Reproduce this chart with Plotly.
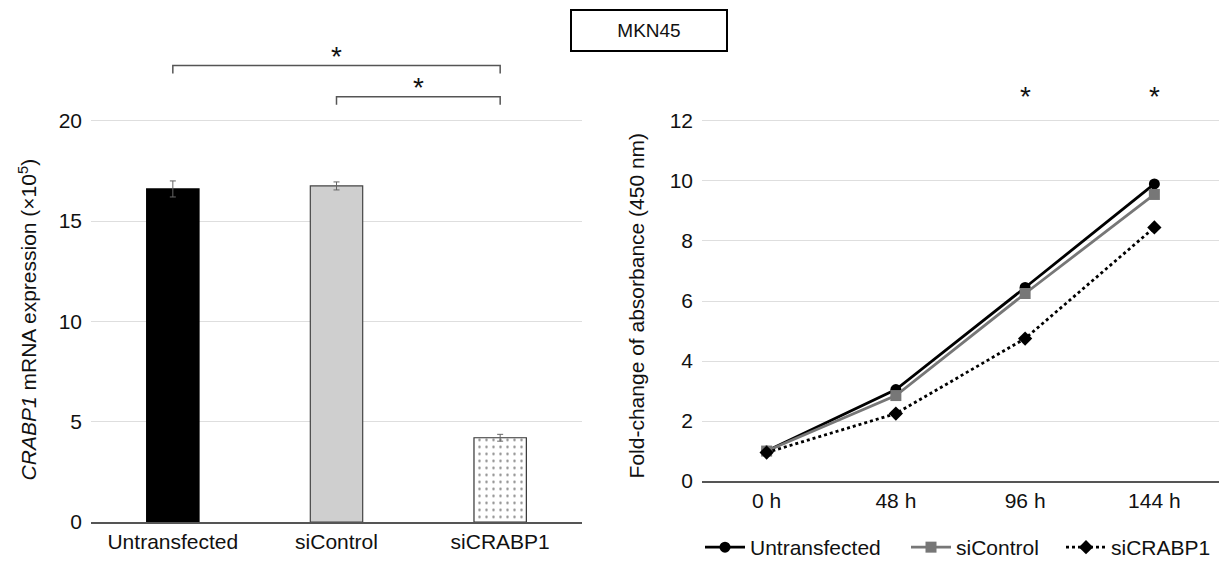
import plotly.graph_objects as go

# ---- data ----
groups = ["Untransfected", "siControl", "siCRABP1"]
mrna = [16.6, 16.75, 4.2]
mrna_err = [0.4, 0.2, 0.17]

timepoints = ["0 h", "48 h", "96 h", "144 h"]
untransfected = [1.0, 3.05, 6.45, 9.9]
sicontrol = [1.0, 2.85, 6.25, 9.55]
sicrabp1 = [0.95, 2.25, 4.75, 8.45]

left_ticks = [0, 5, 10, 15, 20]
right_ticks = [0, 2, 4, 6, 8, 10, 12]

# significance brackets: (from group, to group, height)
brackets = [("Untransfected", "siCRABP1", 22.75), ("siControl", "siCRABP1", 21.2)]
right_stars = ["96 h", "144 h"]

FONT = "Liberation Sans, Arial, sans-serif"
TXT = "#111111"
FS = 21

W, H = 1226, 568
YS = 1.0215  # vertical correction observed in the capture


def px(x):
    return x / W


def py(y):
    return 1 - (y * YS) / H


fig = go.Figure()

bar_fill = ["#000000", "#cfcfcf", "#ffffff"]
bar_line = ["#000000", "#444444", "#333333"]
for i, g in enumerate(groups):
    pattern = dict(shape=".", fgcolor="#111111", bgcolor="#ffffff", size=7, solidity=0.1) if g == "siCRABP1" else dict(shape="")
    fig.add_trace(go.Bar(
        x=[g], y=[mrna[i]], width=0.32,
        marker=dict(color=bar_fill[i], line=dict(color=bar_line[i], width=1.2), pattern=pattern),
        error_y=dict(type="data", array=[mrna_err[i]], color="#666666", thickness=1, width=3),
        showlegend=False, xaxis="x", yaxis="y",
    ))

line_styles = [
    ("Untransfected", untransfected, "#000000", "solid", "circle", "legend", 700),
    ("siControl", sicontrol, "#777777", "solid", "square", "legend2", 906),
    ("siCRABP1", sicrabp1, "#000000", "dot", "diamond", "legend3", 1061),
]
for name, vals, col, dash, sym, leg, _ in line_styles:
    fig.add_trace(go.Scatter(
        x=timepoints, y=vals, name=name, mode="lines+markers",
        line=dict(color=col, width=2.8, dash=dash),
        marker=dict(color=col, symbol=sym, size=11),
        xaxis="x2", yaxis="y2", legend=leg,
    ))

# brackets on bar chart
for a, b, h in brackets:
    xa, xb = groups.index(a), groups.index(b)
    fig.add_shape(type="path",
                  path=f"M {xa},{h-0.4} L {xa},{h} L {xb},{h} L {xb},{h-0.4}",
                  xref="x", yref="y", line=dict(color="#555555", width=1.5))
    fig.add_annotation(x=(xa + xb) / 2, y=h + 0.45, xref="x", yref="y", text="*",
                       showarrow=False, font=dict(size=28, color=TXT, family=FONT))

for t in right_stars:
    fig.add_annotation(x=t, y=12.8, xref="x2", yref="y2", text="*",
                       showarrow=False, font=dict(size=28, color=TXT, family=FONT))

# axis titles
fig.add_annotation(x=px(28), y=py(320), xref="paper", yref="paper",
                   xanchor="center", yanchor="middle",
                   text="<i>CRABP1</i> mRNA expression (×10<sup>5</sup>)", textangle=-90,
                   showarrow=False, font=dict(size=FS, color=TXT, family=FONT))
fig.add_annotation(x=px(636), y=py(306), xref="paper", yref="paper",
                   xanchor="center", yanchor="middle",
                   text="Fold-change of absorbance (450 nm)", textangle=-90,
                   showarrow=False, font=dict(size=FS, color=TXT, family=FONT))

# MKN45 box
fig.add_annotation(x=px(649), y=py(31), xref="paper", yref="paper",
                   xanchor="center", yanchor="middle",
                   text="MKN45", showarrow=False, width=150, height=35,
                   bordercolor="#000000", borderwidth=2, borderpad=2,
                   font=dict(size=19, color=TXT, family=FONT))

axis_common = dict(showline=True, linecolor="#555555", linewidth=1.5, ticks="",
                   tickfont=dict(size=FS, color=TXT, family=FONT), fixedrange=True)

legend_common = dict(orientation="h", yanchor="middle", xanchor="left",
                     font=dict(size=FS, color=TXT, family=FONT), itemwidth=40,
                     bgcolor="rgba(0,0,0,0)")

fig.update_layout(
    width=W, height=H,
    margin=dict(l=0, r=0, t=0, b=0),
    plot_bgcolor="white", paper_bgcolor="white",
    font=dict(family=FONT, color=TXT),
    xaxis=dict(domain=[px(91), px(582)], anchor="y", showgrid=False,
               categoryorder="array", categoryarray=groups, range=[-0.5, 2.5], **axis_common),
    yaxis=dict(domain=[py(523), py(30.5)], anchor="x", range=[0, 24.5],
               tickvals=left_ticks, showgrid=True, gridcolor="#dedede", gridwidth=1.2,
               showline=False, zeroline=False, ticklabelstandoff=8,
               tickfont=dict(size=FS, color=TXT, family=FONT), fixedrange=True),
    xaxis2=dict(domain=[px(702), px(1219)], anchor="y2", showgrid=False,
                range=[-0.5, 3.5], **axis_common),
    yaxis2=dict(domain=[py(482), py(61)], anchor="x2", range=[0, 14],
                tickvals=right_ticks, showgrid=True, gridcolor="#dedede", gridwidth=1.2,
                showline=False, zeroline=False, ticklabelstandoff=8,
                tickfont=dict(size=FS, color=TXT, family=FONT), fixedrange=True),
    legend=dict(x=px(line_styles[0][6]), y=py(549), **legend_common),
    legend2=dict(x=px(line_styles[1][6]), y=py(549), **legend_common),
    legend3=dict(x=px(line_styles[2][6]), y=py(549), **legend_common),
)

page_css = (
    "var s=document.createElement('style');"
    "s.textContent='html,body{margin:0;padding:0;overflow:hidden;width:1226px;height:568px;}';"
    "document.head.appendChild(s);"
)
fig.write_html("out.html", config={"displayModeBar": False}, post_script=page_css)
